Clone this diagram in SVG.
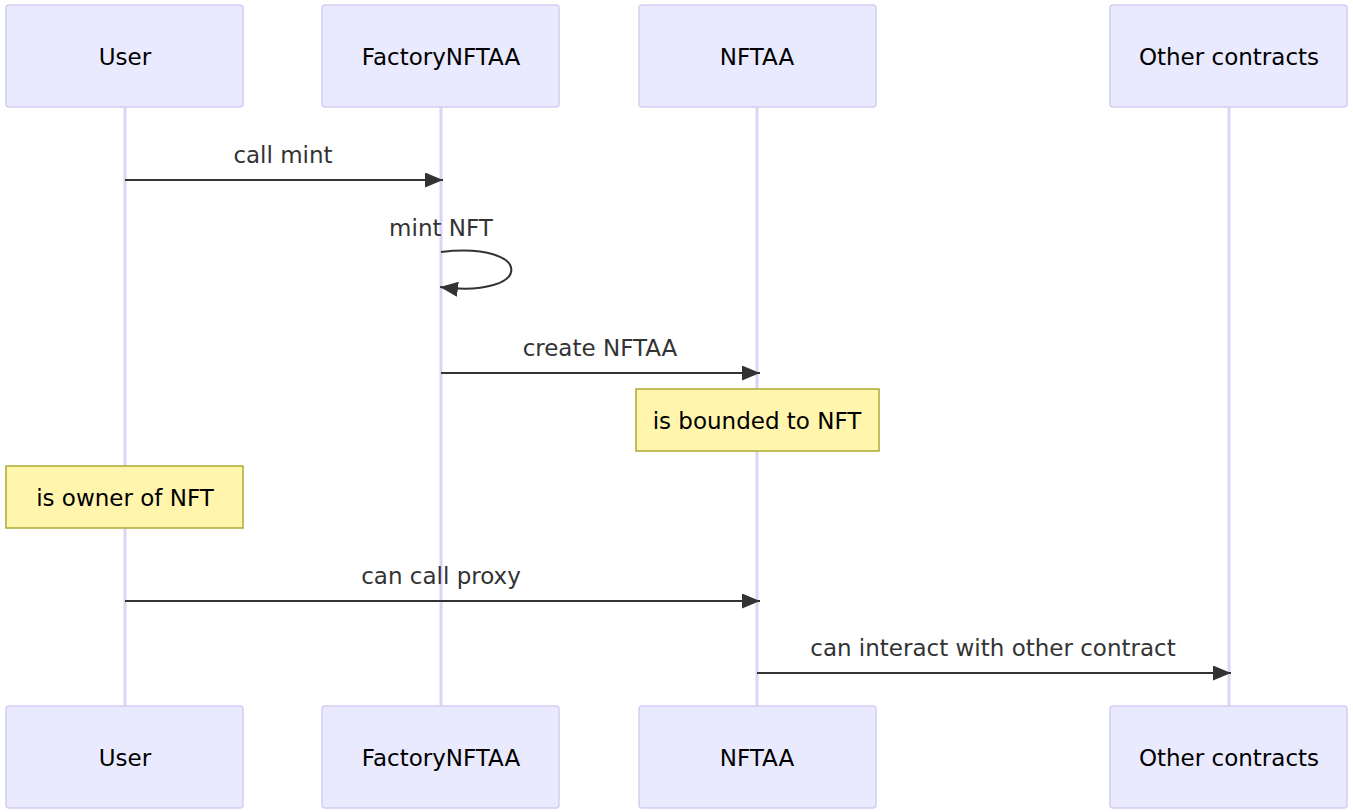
<svg xmlns="http://www.w3.org/2000/svg" width="1353" height="812" viewBox="0 0 1353 812">
<defs>
<style>
.actor{fill:#eaeaff;stroke:#d6cdf3;stroke-width:1.5}
.life{stroke:#ddd4f4;stroke-width:3}
.atext{font-family:"DejaVu Sans",Verdana,sans-serif;font-size:23px;fill:#000;text-anchor:middle;dominant-baseline:central}
.note{fill:#fff5ad;stroke:#aaaa33;stroke-width:1.5}
.ntext{font-family:"DejaVu Sans",Verdana,sans-serif;font-size:23px;fill:#000;text-anchor:middle;dominant-baseline:central}
.msg{stroke:#333;stroke-width:2;fill:none;marker-end:url(#arrow)}
.mtext{font-family:"DejaVu Sans",Verdana,sans-serif;font-size:23px;fill:#333;text-anchor:middle;dominant-baseline:central}
</style>
<marker id="arrow" viewBox="0 0 12 10" refX="12" refY="5" markerWidth="9" markerHeight="7.5" orient="auto" markerUnits="strokeWidth">
<path d="M0,0 L12,5 L0,10 z" fill="#333"/>
</marker>
</defs>
<rect width="1353" height="812" fill="#fff"/>
<g id="lifelines">
<line class="life" x1="125" y1="107" x2="125" y2="706"/>
<line class="life" x1="441" y1="107" x2="441" y2="706"/>
<line class="life" x1="757" y1="107" x2="757" y2="706"/>
<line class="life" x1="1229" y1="107" x2="1229" y2="706"/>
</g>
<g id="actor-user-top"><rect class="actor" x="6" y="5" width="237" height="102" rx="3"/><text class="atext" x="125" y="57">User</text></g>
<g id="actor-factory-top"><rect class="actor" x="322" y="5" width="237" height="102" rx="3"/><text class="atext" x="441" y="57">FactoryNFTAA</text></g>
<g id="actor-nftaa-top"><rect class="actor" x="639" y="5" width="237" height="102" rx="3"/><text class="atext" x="757" y="57">NFTAA</text></g>
<g id="actor-other-top"><rect class="actor" x="1110" y="5" width="237" height="102" rx="3"/><text class="atext" x="1229" y="57">Other contracts</text></g>
<g id="actor-user-bottom"><rect class="actor" x="6" y="706" width="237" height="102" rx="3"/><text class="atext" x="125" y="758">User</text></g>
<g id="actor-factory-bottom"><rect class="actor" x="322" y="706" width="237" height="102" rx="3"/><text class="atext" x="441" y="758">FactoryNFTAA</text></g>
<g id="actor-nftaa-bottom"><rect class="actor" x="639" y="706" width="237" height="102" rx="3"/><text class="atext" x="757" y="758">NFTAA</text></g>
<g id="actor-other-bottom"><rect class="actor" x="1110" y="706" width="237" height="102" rx="3"/><text class="atext" x="1229" y="758">Other contracts</text></g>
<g id="note-bounded"><rect class="note" x="636" y="389" width="243" height="62"/><text class="ntext" x="757" y="421">is bounded to NFT</text></g>
<g id="note-owner"><rect class="note" x="6" y="466" width="237" height="62"/><text class="ntext" x="125" y="498">is owner of NFT</text></g>
<g id="connectors">
<path class="msg" d="M125,180 L443,180"/>
<text class="mtext" x="283" y="155">call mint</text>
<path class="msg" d="M441,252 C535,241 535,299 440,287"/>
<text class="mtext" x="441" y="228">mint NFT</text>
<path class="msg" d="M441,373 L760,373"/>
<text class="mtext" x="600" y="348">create NFTAA</text>
<path class="msg" d="M125,601 L760,601"/>
<text class="mtext" x="441" y="576">can call proxy</text>
<path class="msg" d="M757,673 L1231,673"/>
<text class="mtext" x="993" y="648">can interact with other contract</text>
</g>
</svg>
